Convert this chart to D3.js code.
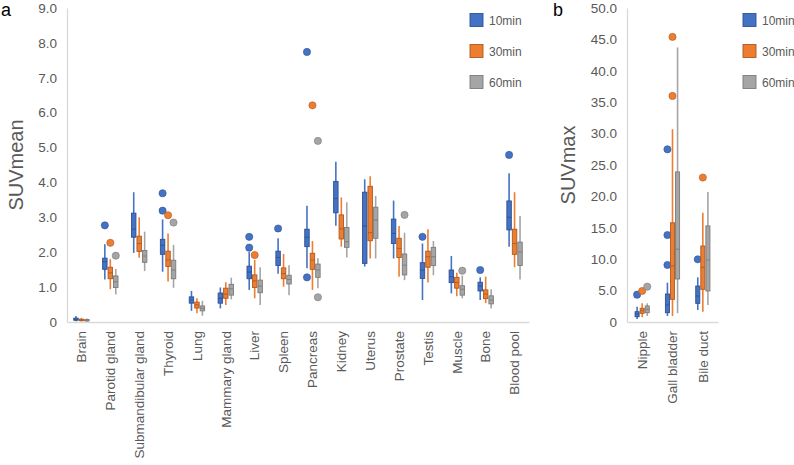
<!DOCTYPE html>
<html><head><meta charset="utf-8">
<script src="https://cdn.jsdelivr.net/npm/d3@7"></script>
<style>
body{margin:0;background:#fff;}
svg{display:block;font-family:"Liberation Sans",Arial,sans-serif;}
</style></head>
<body><svg id="c" width="794" height="465"></svg>
<script>
// ---------- DATA ----------
const series = ["10min", "30min", "60min"];
const colors = ["#4472C4", "#ED7D31", "#A5A5A5"];
const strokes = ["#2F528F", "#AE5A21", "#7B7B7B"];

const categoriesA = ["Brain","Parotid gland","Submandibular gland","Thyroid","Lung","Mammary gland","Liver","Spleen","Pancreas","Kidney","Uterus","Prostate","Testis","Muscle","Bone","Blood pool"];
const ticksA = [0,1,2,3,4,5,6,7,8,9];
// [low whisker, q1, median, q3, high whisker]
const a10 = [[0.02,0.05,0.08,0.11,0.17],[1.22,1.51,1.73,1.83,2.23],[1.98,2.43,2.66,3.12,3.72],[1.44,1.94,2.2,2.37,2.94],[0.32,0.54,0.63,0.72,0.89],[0.39,0.54,0.68,0.83,0.99],[0.92,1.24,1.43,1.60,2.01],[1.38,1.62,1.85,2.03,2.40],[1.54,2.16,2.43,2.66,3.33],[2.76,3.13,3.54,4.03,4.59],[1.59,1.68,2.75,3.72,4.09],[1.82,2.25,2.54,2.95,3.48],[0.63,1.25,1.49,1.70,2.25],[0.82,1.13,1.30,1.49,1.89],[0.63,0.89,1.03,1.14,1.28],[2.16,2.64,3.0,3.47,4.26]];
const a30 = [[0.01,0.04,0.06,0.08,0.12],[0.94,1.24,1.41,1.57,1.80],[1.84,2.02,2.25,2.46,3.0],[1.16,1.59,1.78,2.03,2.54],[0.25,0.40,0.49,0.57,0.68],[0.49,0.68,0.80,0.97,1.14],[0.68,0.99,1.18,1.35,1.78],[1.01,1.24,1.39,1.55,1.95],[0.92,1.51,1.78,1.97,2.32],[2.16,2.38,2.67,3.07,3.57],[1.82,2.33,2.56,3.89,4.18],[1.30,1.85,2.11,2.40,2.75],[1.13,1.57,1.87,2.03,2.66],[0.74,0.97,1.13,1.28,1.41],[0.54,0.67,0.80,0.92,1.30],[1.57,1.94,2.25,2.66,3.72]];
const a60 = [[0.01,0.03,0.05,0.07,0.10],[0.79,0.99,1.15,1.32,1.52],[1.46,1.71,1.89,2.05,2.59],[0.98,1.24,1.49,1.77,2.21],[0.18,0.32,0.39,0.46,0.61],[0.65,0.77,0.95,1.08,1.27],[0.49,0.84,1.03,1.20,1.57],[0.77,1.09,1.22,1.34,1.63],[0.97,1.28,1.49,1.66,1.83],[1.85,2.14,2.30,2.71,3.43],[1.82,2.40,2.92,3.29,3.61],[1.20,1.35,1.63,1.95,2.56],[1.34,1.62,1.87,2.14,2.32],[0.68,0.77,0.94,1.04,1.33],[0.39,0.52,0.63,0.75,0.94],[1.22,1.62,2.01,2.29,3.04]];
const outA10 = [[],[2.77],[],[3.69,3.19],[],[],[2.44,2.13],[2.68],[7.74,1.28],[],[],[],[2.44],[],[1.49],[4.79]];
const outA30 = [[],[2.27],[],[3.06],[],[],[1.92],[],[6.21],[],[],[],[],[],[],[]];
const outA60 = [[],[1.90],[],[2.85],[],[],[],[],[5.19,0.71],[],[],[3.07],[],[1.47],[],[]];

const categoriesB = ["Nipple","Gall bladder","Bile duct"];
const ticksB = [0,5,10,15,20,25,30,35,40,45,50];
const b10 = [[0.48,0.84,1.27,1.64,2.44],[0.96,1.48,2.71,4.46,6.26],[1.91,2.97,4.14,5.73,7.11]];
const b30 = [[0.75,1.39,1.80,2.18,2.97],[0.96,3.61,8.92,15.8,30.7],[1.64,5.2,8.7,12.1,17.4]];
const b60 = [[0.96,1.48,2.02,2.55,2.97],[1.39,6.85,11.6,23.9,43.7],[2.71,4.94,9.87,15.3,20.7]];
const outB10 = [[4.35],[27.5,13.85,9.08],[9.98]];
const outB30 = [[4.94],[45.4,36.0],[23.0]];
const outB60 = [[5.63],[],[]];

// ---------- DRAW ----------
const svg = d3.select("#c");
const txt = "#595959", axisCol = "#D9D9D9";

function panel(cfg){
  const g = svg.append("g");
  const x = d3.scaleBand().domain(cfg.cats).range([cfg.x0, cfg.x1]);
  const y = d3.scaleLinear().domain([0, cfg.max]).range([322, 8]);
  const inner = d3.scaleBand().domain(series).range([-cfg.half, cfg.half]);
  const bw = inner.bandwidth();

  // y axis
  const ya = g.append("g").attr("transform", `translate(${cfg.x0},0)`)
    .call(d3.axisLeft(y).tickValues(cfg.ticks).tickSize(0).tickPadding(10)
      .tickFormat(d => d === 0 ? "0" : d3.format(".1f")(d)));
  ya.select(".domain").attr("stroke", axisCol).attr("stroke-width", 1.3);
  ya.selectAll("text").attr("fill", txt).attr("font-size", 13.5).attr("font-family", "Liberation Sans, Arial, sans-serif");

  // x axis
  const xa = g.append("g").attr("transform", `translate(0,322)`)
    .call(d3.axisBottom(x).tickSize(0).tickPadding(0));
  xa.select(".domain").attr("stroke", axisCol).attr("stroke-width", 1.3);
  xa.selectAll("text").attr("fill", txt).attr("font-size", 13.5)
    .attr("font-family", "Liberation Sans, Arial, sans-serif")
    .attr("text-anchor", "end").attr("dy", "0.35em")
    .attr("transform", "translate(0,9) rotate(-90)")
    .attr("x", 0).attr("y", 0);

  const sets = cfg.data;
  sets.forEach((arr, si) => {
    const gs = g.append("g");
    arr.forEach((d, ci) => {
      const cx = x(cfg.cats[ci]) + x.bandwidth()/2 + inner(series[si]) + bw/2;
      // whisker
      gs.append("line").attr("x1", cx).attr("x2", cx)
        .attr("y1", y(d[0])).attr("y2", y(d[4]))
        .attr("stroke", colors[si]).attr("stroke-width", 1.6);
      // box
      gs.append("rect").attr("x", cx - bw/2 + 0.5).attr("width", bw - 1)
        .attr("y", y(d[3])).attr("height", Math.max(1, y(d[1]) - y(d[3])))
        .attr("fill", colors[si]).attr("stroke", strokes[si]).attr("stroke-width", 0.9);
      // median
      gs.append("line").attr("x1", cx - bw/2 + 0.5).attr("x2", cx + bw/2 - 0.5)
        .attr("y1", y(d[2])).attr("y2", y(d[2]))
        .attr("stroke", strokes[si]).attr("stroke-width", 0.9);
      // outliers
      cfg.outs[si][ci].forEach(v => {
        gs.append("circle").attr("cx", cx).attr("cy", y(v)).attr("r", 3.6)
          .attr("fill", colors[si]).attr("stroke", strokes[si]).attr("stroke-width", 0.6);
      });
    });
  });

  // legend
  const lg = g.append("g");
  series.forEach((s, i) => {
    lg.append("rect").attr("x", cfg.lx).attr("y", 13.5 + i*31).attr("width", 13).attr("height", 13)
      .attr("fill", colors[i]).attr("stroke", strokes[i]).attr("stroke-width", 0.9);
    lg.append("text").attr("x", cfg.lx + 19).attr("y", 24.5 + i*31).text(s)
      .attr("fill", txt).attr("font-size", 12);
  });

  // axis title
  g.append("text").attr("transform", `translate(${cfg.tx},165) rotate(-90)`)
    .attr("text-anchor", "middle").attr("dy", "0.35em")
    .attr("fill", txt).attr("font-size", 20).text(cfg.title);
  // panel letter
  g.append("text").attr("x", cfg.px).attr("y", 16).attr("fill", "#000")
    .attr("font-size", 18).text(cfg.letter);
}

panel({cats: categoriesA, x0: 67, x1: 529, max: 9, ticks: ticksA, half: 8.2,
  data: [a10, a30, a60], outs: [outA10, outA30, outA60], lx: 470, tx: 16,
  title: "SUVmean", px: 1, letter: "a"});
panel({cats: categoriesB, x0: 627, x1: 718, max: 50, ticks: ticksB, half: 7.6,
  data: [b10, b30, b60], outs: [outB10, outB30, outB60], lx: 743, tx: 568,
  title: "SUVmax", px: 553, letter: "b"});
</script></body></html>
